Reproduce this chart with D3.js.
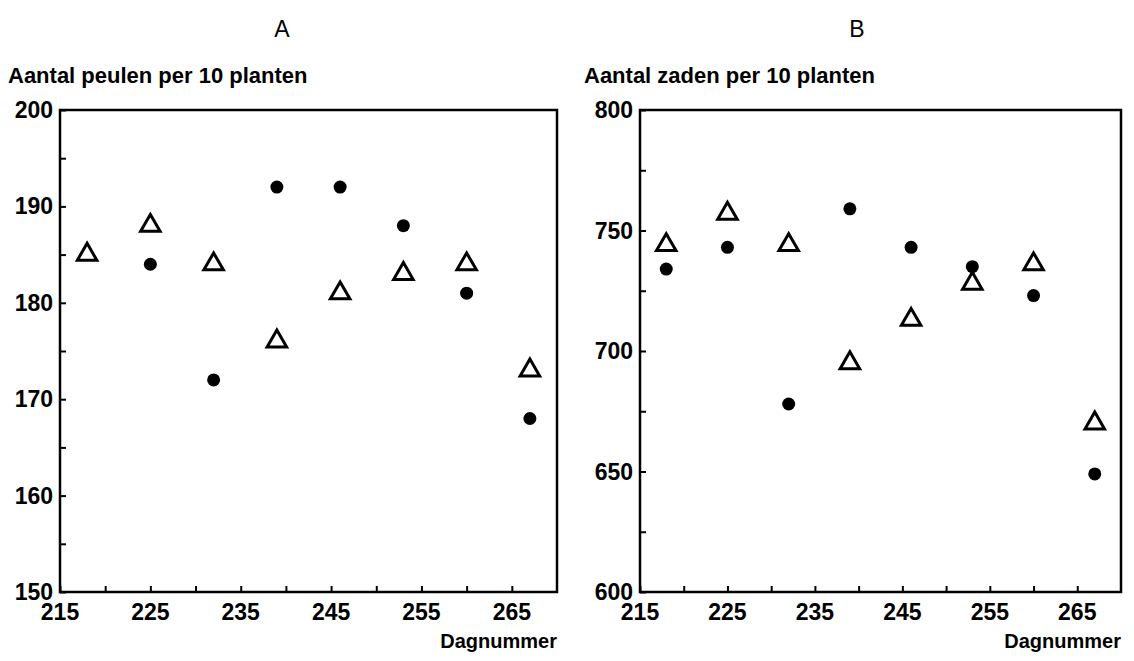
<!DOCTYPE html>
<html>
<head>
<meta charset="utf-8">
<script src="https://cdn.jsdelivr.net/npm/d3@7"></script>
<style>
    body { margin: 0; background: #fff; }
    text { font-family: "Liberation Sans", Arial, sans-serif; fill: #000; }
</style>
</head>
<body>
<div id="chart"></div>
<script>
// day numbers (x) shared by both panels
var days = [218, 225, 232, 239, 246, 253, 260, 267];

// panel A: pods per 10 plants
var podsTriangle = [185, 188, 184, 176, 181, 183, 184, 173];
var podsCircle = [null, 184, 172, 192, 192, 188, 181, 168];

// panel B: seeds per 10 plants
var seedsTriangle = [744, 757, 744, 695, 713, 728, 736, 670];
var seedsCircle = [734, 743, 678, 759, 743, 735, 723, 649];

// tick labels
var xLabels = [215, 225, 235, 245, 255, 265];
var yLabelsA = [150, 160, 170, 180, 190, 200];
var yLabelsB = [600, 650, 700, 750, 800];

var width = 1134, height = 661;

var svg = d3.select("#chart").append("svg")
    .attr("width", width)
    .attr("height", height);

/**
 * Draws one scatter panel with a closed frame and inward ticks
 */
function drawPanel(p) {
    var x = d3.scaleLinear().domain([215, 270]).range([p.left, p.right]);
    var y = d3.scaleLinear().domain(p.yDomain).range([p.bottom, p.top]);

    var g = svg.append("g");

    // minor ticks every 5 units on x, every yMinor on y
    var xTicks = d3.range(215, 270, 5);
    var yTicks = d3.range(p.yDomain[0], p.yDomain[1] + 0.001, p.yMinor);

    var xAxis = g.append("g")
        .attr("transform", "translate(0," + p.bottom + ")")
        .call(d3.axisBottom(x).tickValues(xTicks).tickSizeInner(-6).tickSizeOuter(0).tickFormat(""));
    xAxis.select(".domain").remove();
    xAxis.selectAll("line").attr("stroke", "#000").attr("stroke-width", 2);

    var yAxis = g.append("g")
        .attr("transform", "translate(" + p.left + ",0)")
        .call(d3.axisLeft(y).tickValues(yTicks).tickSizeInner(-6).tickSizeOuter(0).tickFormat(""));
    yAxis.select(".domain").remove();
    yAxis.selectAll("line").attr("stroke", "#000").attr("stroke-width", 2);

    // frame
    g.append("rect")
        .attr("x", p.left)
        .attr("y", p.top)
        .attr("width", p.right - p.left)
        .attr("height", p.bottom - p.top)
        .attr("fill", "none")
        .attr("stroke", "#000")
        .attr("stroke-width", 2.5);

    // tick labels
    g.selectAll(".xl").data(xLabels).enter().append("text")
        .attr("x", function(d) { return x(d); })
        .attr("y", p.bottom + 28)
        .attr("text-anchor", "middle")
        .attr("font-size", "23px")
        .attr("font-weight", "bold")
        .text(function(d) { return d; });

    g.selectAll(".yl").data(p.yLabels).enter().append("text")
        .attr("x", p.left - 7)
        .attr("y", function(d) { return y(d) + 8; })
        .attr("text-anchor", "end")
        .attr("font-size", "23px")
        .attr("font-weight", "bold")
        .text(function(d) { return d; });

    // titles
    g.append("text")
        .attr("x", p.letterX)
        .attr("y", 37)
        .attr("text-anchor", "middle")
        .attr("font-size", "23px")
        .text(p.letter);

    g.append("text")
        .attr("x", p.titleX)
        .attr("y", 83)
        .attr("font-size", "22px")
        .attr("font-weight", "bold")
        .text(p.title);

    g.append("text")
        .attr("x", p.right)
        .attr("y", p.bottom + 56)
        .attr("text-anchor", "end")
        .attr("font-size", "20px")
        .attr("font-weight", "bold")
        .text("Dagnummer");

    // open triangles
    var tri = d3.symbol().type(d3.symbolTriangle).size(165);
    g.selectAll(".tri").data(days.map(function(d, i) { return [d, p.triangles[i]]; })).enter()
        .append("path")
        .attr("d", tri)
        .attr("transform", function(d) { return "translate(" + x(d[0]) + "," + y(d[1]) + ")"; })
        .attr("fill", "#fff")
        .attr("stroke", "#000")
        .attr("stroke-width", 3);

    // filled circles
    g.selectAll(".dot").data(days.map(function(d, i) { return [d, p.circles[i]]; })
            .filter(function(d) { return d[1] != null; })).enter()
        .append("circle")
        .attr("cx", function(d) { return x(d[0]); })
        .attr("cy", function(d) { return y(d[1]); })
        .attr("r", 6.5)
        .attr("fill", "#000");
}

drawPanel({
    left: 60, right: 557, top: 110, bottom: 592,
    yDomain: [150, 200], yMinor: 5, yLabels: yLabelsA,
    letter: "A", letterX: 282,
    title: "Aantal peulen per 10 planten", titleX: 8,
    triangles: podsTriangle, circles: podsCircle
});

drawPanel({
    left: 640, right: 1121, top: 110, bottom: 592,
    yDomain: [600, 800], yMinor: 25, yLabels: yLabelsB,
    letter: "B", letterX: 857,
    title: "Aantal zaden per 10 planten", titleX: 584,
    triangles: seedsTriangle, circles: seedsCircle
});
</script>
</body>
</html>
